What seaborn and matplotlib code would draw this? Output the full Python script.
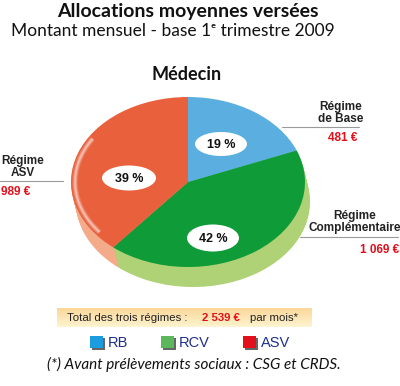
import numpy as np
import matplotlib
matplotlib.use("Agg")
import matplotlib.pyplot as plt
import seaborn as sns
from matplotlib.patches import Ellipse, Rectangle, Arc

# ---------------- data ----------------
categories = ["RB", "RCV", "ASV"]
regime_labels = ["Régime\nde Base", "Régime\nComplémentaire", "Régime\nASV"]
amounts = [481, 1069, 989]          # € per month
pie_colors = ["#5aafe0", "#0f9b37", "#e8603c"]
rim_colors = ["#a6d3ef", "#afd277", "#f4ab8a"]
legend_colors = ["#1b9be0", "#5cb85c", "#e3101c"]

title = "Allocations moyennes versées"
subtitle = "Montant mensuel - base 1ᵉ trimestre 2009"
pie_title = "Médecin"
footnote = "(*) Avant prélèvements sociaux : CSG et CRDS."

def euro(v):
    s = f"{v:,}".replace(",", " ")
    return f"{s} €"

total = sum(amounts)
pcts = [round(100 * v / total) for v in amounts]

# ---------------- figure ----------------
sns.set_theme(style="white")
plt.rcParams["font.family"] = ["Liberation Sans", "DejaVu Sans"]

W, H = 400, 386
fig = plt.figure(figsize=(W / 100, H / 100), dpi=100)
fig.patch.set_facecolor("white")

def fig_rect(x0, y0, x1, y1):
    return [x0 / W, 1 - y1 / H, (x1 - x0) / W, (y1 - y0) / H]

# pie geometry in pixels
CX, CY, A, B = 188, 182, 117, 85
px0, py0, px1, py1 = 50, 85, 330, 310
axp = fig.add_axes(fig_rect(px0, py0, px1, py1))

# rim (3D thickness)
for t in np.linspace(1, 0.05, 14):
    axp.pie(amounts, colors=rim_colors, startangle=90, counterclock=False,
            center=(5 * t / A, -20 * t / B), radius=1,
            wedgeprops=dict(linewidth=0))
# top face
axp.pie(amounts, colors=pie_colors, startangle=90, counterclock=False,
        radius=1, wedgeprops=dict(linewidth=0))
# soft glossy highlight along the left edge
for lw, al in [(4, 0.15), (2.5, 0.25), (1.2, 0.35)]:
    axp.add_patch(Arc((0, 0), 2 * 0.965, 2 * 0.95, theta1=148, theta2=218,
                      color="white", lw=lw, alpha=al))
axp.set_aspect("auto")
axp.set_xlim((px0 - CX) / A, (px1 - CX) / A)
axp.set_ylim((CY - py1) / B, (CY - py0) / B)
axp.axis("off")

# overlay in pixel coordinates
ax = fig.add_axes([0, 0, 1, 1])
ax.set_xlim(0, W)
ax.set_ylim(H, 0)
ax.axis("off")
ax.patch.set_alpha(0)

title_font = ["Lato", "DejaVu Sans"]
ax.text(188, 11, title, ha="center", va="center", fontsize=14,
        fontweight="bold", family=title_font, color="#111111")
ax.text(173, 31, subtitle, ha="center", va="center", fontsize=12.5,
        family=title_font, color="#111111")
ax.text(187, 74, pie_title, ha="center", va="center", fontsize=13,
        fontweight="bold", family=title_font, color="#111111")

# percentage bubbles
bubbles = [(221, 144, 52, 24), (213, 238, 52, 27), (129, 178, 54, 25)]
for (bx, by, bw, bh), p in zip(bubbles, pcts):
    ax.add_patch(Ellipse((bx, by), bw, bh, facecolor="white", edgecolor="none", zorder=5))
    ax.text(bx, by + 0.5, f"{p} %", ha="center", va="center", fontsize=9,
            fontweight="bold", color="#111111", zorder=6)

# outside labels
lab_pos = [(341, 113), (355, 222), (23, 167)]
lines = [((282, 359), 127), ((300, 398), 237), ((0, 63), 181)]
val_pos = [(343, 138, "center"), (399, 250, "right"), (1, 192, "left")]
for lab, (lx, ly), ((x0, x1), yl), (vx, vy, ha), v in zip(regime_labels, lab_pos, lines, val_pos, amounts):
    ax.text(lx, ly, lab, ha="center", va="center", fontsize=8.5,
            fontweight="bold", color="#222222", linespacing=1.05)
    ax.plot([x0, x1], [yl, yl], color="#9a9a9a", lw=0.8)
    ax.text(vx, vy, euro(v), ha=ha, va="center", fontsize=8.5,
            fontweight="bold", color="#e3101c")

# total box with gradient
grad = np.linspace(0, 1, 32)[:, None]
c_top = np.array(matplotlib.colors.to_rgb("#fbd79a"))
c_bot = np.array(matplotlib.colors.to_rgb("#fef4cf"))
img = c_top[None, None, :] * (1 - grad[..., None]) + c_bot[None, None, :] * grad[..., None]
img = np.repeat(img, 2, axis=1)
ax.imshow(img, extent=(57, 312, 327, 308), aspect="auto", zorder=1)
ax.set_xlim(0, W)
ax.set_ylim(H, 0)
ax.text(67, 318, "Total des trois régimes :", ha="left", va="center",
        fontsize=8.2, color="#222222", zorder=3)
ax.text(202, 318, euro(total), ha="left", va="center", fontsize=8.2,
        fontweight="bold", color="#e3101c", zorder=3)
ax.text(250, 318, "par mois*", ha="left", va="center", fontsize=8.2,
        color="#222222", zorder=3)

# legend
leg_x = [90, 161, 243]
for x, c, name in zip(leg_x, legend_colors, categories):
    ax.add_patch(Rectangle((x + 1.5, 337.5), 13, 12, facecolor="#666666", edgecolor="none", zorder=3))
    ax.add_patch(Rectangle((x, 336), 13, 12, facecolor=c, edgecolor="none", zorder=4))
    ax.text(x + 18, 343, name, ha="left", va="center", fontsize=10.5,
            color="#1d2f8c", zorder=4)

ax.text(194, 364, footnote, ha="center", va="center", fontsize=11,
        style="italic", family=title_font, color="#111111")

fig.savefig("out.png", dpi=100)
